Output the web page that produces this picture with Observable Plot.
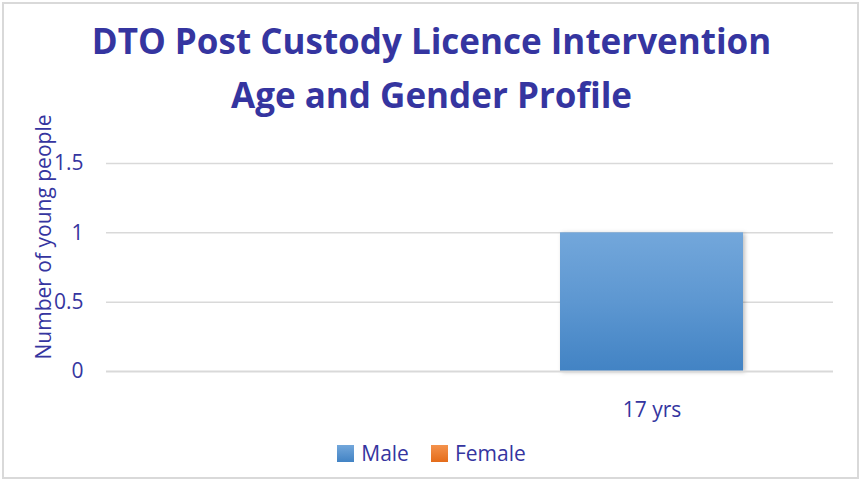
<!DOCTYPE html>
<html><head><meta charset="utf-8">
<script src="https://cdn.jsdelivr.net/npm/d3@7"></script>
<script src="https://cdn.jsdelivr.net/npm/@observablehq/plot@0.6"></script>
<style>
body{margin:0;background:#fff;}
#chart{position:relative;width:863px;height:482px;overflow:hidden;font-family:"Open Sans",sans-serif;color:#3535a0;background:#fff;}
#frame{position:absolute;left:2px;top:2px;width:857px;height:477px;border:2px solid #d9d9d9;box-sizing:border-box;}
#title{position:absolute;left:0;width:863px;top:14px;text-align:center;font-weight:700;font-size:35px;line-height:54px;}
#ytitle{position:absolute;left:43px;top:237px;transform:translate(-50%,-50%) rotate(-90deg);font-size:21px;white-space:nowrap;line-height:28px;}
#plot{position:absolute;left:0;top:0;}
#legend{position:absolute;left:0;width:863px;top:439px;display:flex;justify-content:center;align-items:center;font-size:21px;line-height:28px;}
.item{display:flex;align-items:center;margin:0 11px;}
.sw{width:17px;height:17px;margin-right:7px;}
</style>
</head><body>
<div id="chart">
  <div id="frame"></div>
  <div id="title"></div>
  <div id="plot"></div>
  <div id="ytitle"></div>
  <div id="legend"></div>
</div>
<script>
const titleLines = ["DTO Post Custody Licence Intervention", "Age and Gender Profile"];
const yTitle = "Number of young people";
const ages = ["", "17 yrs"];
const series = ["Male", "Female"];
const male = [0, 1];
const female = [0, 0];
const yTicks = [0, 0.5, 1, 1.5];
const seriesTop = ["#73a7db", "#f4924c"];
const seriesBottom = ["#4283c4", "#e46c1a"];

const rows = [];
ages.forEach((a, i) => {
  rows.push({age: a, sex: series[0], count: male[i]});
  rows.push({age: a, sex: series[1], count: female[i]});
});

document.getElementById("title").innerHTML = titleLines.join("<br>");
document.getElementById("ytitle").textContent = yTitle;

const textColor = "#3535a0";
const plot = Plot.plot({
  width: 863,
  height: 430,
  marginTop: 163,
  marginBottom: 59,
  marginLeft: 106,
  marginRight: 30,
  style: {fontFamily: "'Open Sans', sans-serif", fontSize: "21px", color: textColor, background: "transparent"},
  x: {domain: ages, paddingInner: 0, paddingOuter: 0, label: null},
  y: {domain: [0, 1.5], label: null},
  color: {domain: series, range: series.map((s, i) => `url(#grad${i})`)},
  marks: [
    Plot.ruleY(yTicks.filter(t => t !== 0), {stroke: "#d9d9d9", strokeWidth: 1.5}),
    Plot.barY(rows, {x: "age", y: "count", fill: "sex", insetLeft: 90, insetRight: 90}),
    Plot.ruleY([0], {stroke: "#d9d9d9", strokeWidth: 2}),
    Plot.axisY({ticks: yTicks, tickSize: 0, tickPadding: 23, tickFormat: d => String(d), label: null}),
    Plot.axisX({tickSize: 0, tickPadding: 31, label: null})
  ]
});

const svg = d3.select(plot);
const defs = svg.insert("defs", ":first-child");
series.forEach((s, i) => {
  const g = defs.append("linearGradient").attr("id", `grad${i}`).attr("x1", 0).attr("y1", 0).attr("x2", 0).attr("y2", 1);
  g.append("stop").attr("offset", "0%").attr("stop-color", seriesTop[i]);
  g.append("stop").attr("offset", "50%").attr("stop-color", d3.interpolateRgb(seriesTop[i], seriesBottom[i])(0.45));
  g.append("stop").attr("offset", "100%").attr("stop-color", seriesBottom[i]);
});
svg.selectAll("g[aria-label='bar'] rect").style("filter", "drop-shadow(2px 1px 2px rgba(0,0,0,0.25))");
document.getElementById("plot").appendChild(plot);

const legend = d3.select("#legend");
series.forEach((s, i) => {
  const it = legend.append("div").attr("class", "item");
  it.append("div").attr("class", "sw").style("background", `linear-gradient(${seriesTop[i]}, ${seriesBottom[i]})`);
  it.append("span").text(s);
});
</script>
</body></html>
